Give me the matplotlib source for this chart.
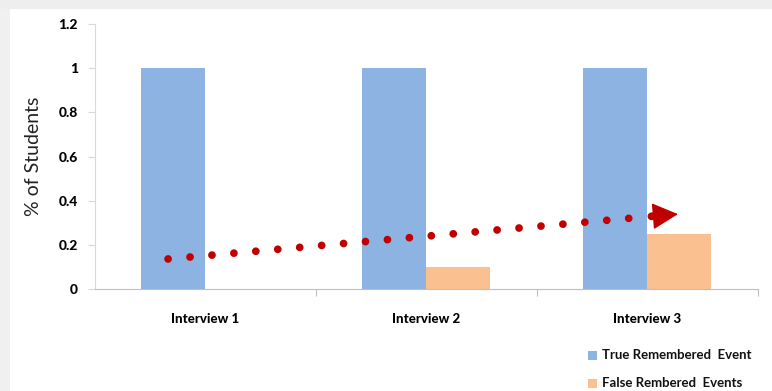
import matplotlib
matplotlib.use("Agg")
import matplotlib.pyplot as plt
from matplotlib.patches import Rectangle
import numpy as np

# Data
categories = ["Interview 1", "Interview 2", "Interview 3"]
true_remembered = [1.0, 1.0, 1.0]
false_remembered = [0.0, 0.1, 0.25]
y_ticks = [0, 0.2, 0.4, 0.6, 0.8, 1.0, 1.2]
y_tick_labels = ["0", "0.2", "0.4", "0.6", "0.8", "1", "1.2"]
# rising trend (dotted) drawn across the groups: (x in category units, value)
trend_start = (-0.167, 0.136)
trend_end = (1.93, 0.321)
arrow_base = (2.02, 0.329)
arrow_tip = (2.14, 0.339)

BLUE = "#8DB3E2"
ORANGE = "#FAC08F"
RED = "#C00000"
FONT = "Lato"

W, H = 772, 391
fig = plt.figure(figsize=(W / 100, H / 100), dpi=100, facecolor="white")

# card frame: light grey strips on the top and left edges
fig.patches.append(Rectangle((0, 0), 10 / W, 1, transform=fig.transFigure,
                             facecolor="#f0f0f0", edgecolor="none", zorder=0))
fig.patches.append(Rectangle((0, 1 - 9 / H), 1, 9 / H, transform=fig.transFigure,
                             facecolor="#eeeeee", edgecolor="none", zorder=0))

left, right = 94.5 / W, 757.5 / W
bottom, top = (H - 289) / H, (H - 24) / H
ax = fig.add_axes([left, bottom, right - left, top - bottom])
ax.set_facecolor("none")

x = np.arange(len(categories))
bw = 0.29
ax.bar(x - bw / 2, true_remembered, width=bw, color=BLUE, zorder=2)
ax.bar(x + bw / 2, false_remembered, width=bw, color=ORANGE, zorder=2)

ax.set_xlim(-0.5, 2.5)
ax.set_ylim(0, 1.2)

# dotted trend line (round dots)
ax.plot([trend_start[0], trend_end[0]], [trend_start[1], trend_end[1]],
        color=RED, linewidth=5.6, linestyle=(0, (0.001, 2.83)),
        dash_capstyle="round", zorder=3)
# arrow: short rounded stub plus a triangular head
ax.plot([arrow_base[0], arrow_base[0] + 0.02],
        [arrow_base[1], arrow_base[1] + 0.0017],
        color=RED, linewidth=5.6, solid_capstyle="round", zorder=3)
ax.annotate("", xy=arrow_tip, xytext=arrow_base,
            arrowprops=dict(arrowstyle="-|>,head_length=1.65,head_width=0.85",
                            color=RED, lw=1.0, shrinkA=0, shrinkB=0), zorder=3)

# spines and ticks
for s in ["top", "right"]:
    ax.spines[s].set_visible(False)
ax.spines["left"].set_color("#d9d9d9")
ax.spines["bottom"].set_color("#bfbfbf")
ax.spines["left"].set_linewidth(0.8)
ax.spines["bottom"].set_linewidth(0.8)

ax.set_yticks(y_ticks)
ax.set_yticklabels(y_tick_labels, fontfamily=FONT, fontweight="black", fontsize=10)
ax.tick_params(axis="y", length=5, color="#d9d9d9", pad=7, width=0.8)

ax.set_xticks(x)
ax.set_xticklabels(categories, fontfamily=FONT, fontweight="black", fontsize=9.5)
ax.tick_params(axis="x", which="major", length=0, pad=17)
ax.set_xticks([0.5, 1.5, 2.5], minor=True)
ax.tick_params(axis="x", which="minor", length=5, color="#bfbfbf", width=0.8)

ax.set_ylabel("% of Students", fontfamily=FONT, fontsize=14, labelpad=12,
              color="#222222")

# legend at lower right
items = [("True Remembered  Event", BLUE), ("False Rembered  Events", ORANGE)]
for i, (label, col) in enumerate(items):
    yc = 355 + i * 28
    fig.patches.append(Rectangle((588 / W, (H - yc - 4.5) / H), 9 / W, 9 / H,
                                 transform=fig.transFigure, facecolor=col,
                                 edgecolor="none"))
    fig.text(602 / W, (H - yc) / H, label, fontfamily=FONT, fontsize=9.5,
             fontweight="bold", va="center", ha="left", color="#111111")

fig.savefig("out.png", dpi=100, facecolor="white")
